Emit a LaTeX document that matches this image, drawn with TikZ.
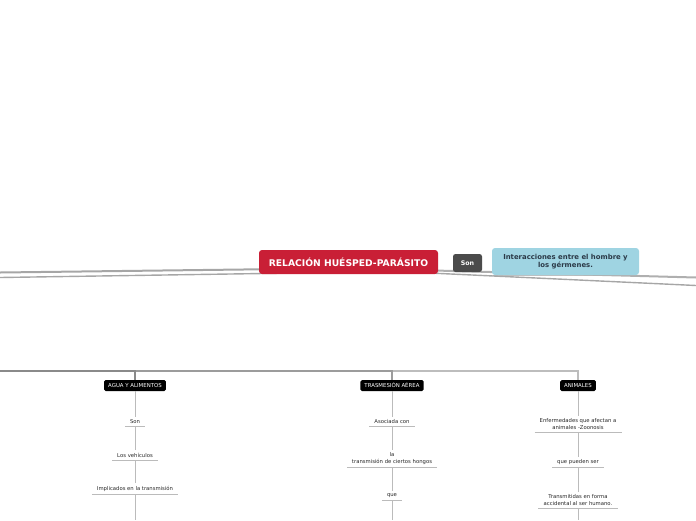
\documentclass[tikz,border=0pt]{standalone}
\usepackage{fontspec}
\setmainfont{DejaVu Sans}
\usetikzlibrary{backgrounds}
\definecolor{mainred}{HTML}{C91F36}
\definecolor{songray}{HTML}{4B4B4B}
\definecolor{lightblue}{HTML}{9FD4E2}
\definecolor{bluetext}{HTML}{2B3A48}
\definecolor{trunkA}{HTML}{8A8A8A}
\definecolor{trunkB}{HTML}{9C9C9C}
\definecolor{trunkC}{HTML}{BDBDBD}
\definecolor{linegray}{HTML}{A6A6A6}
\definecolor{branch}{HTML}{BBBBBB}
\begin{document}
\begin{tikzpicture}[x=1pt,y=-1pt,
  mainbox/.style={fill=mainred,rounded corners=3pt,text=white,font=\bfseries\fontsize{9.2}{11}\selectfont,minimum width=179pt,minimum height=24pt,inner sep=0pt},
  sonbox/.style={fill=songray,rounded corners=2.5pt,text=white,font=\bfseries\fontsize{6.3}{7}\selectfont,minimum width=29pt,minimum height=18pt,inner sep=0pt},
  bluebox/.style={fill=lightblue,rounded corners=3pt,text=bluetext,font=\bfseries\fontsize{6.9}{8.6}\selectfont,minimum width=147pt,minimum height=27pt,inner sep=0pt,align=center},
  catbox/.style={fill=black,rounded corners=1.5pt,text=white,font=\fontsize{5.4}{6.5}\selectfont,minimum height=11pt,inner xsep=4pt,inner ysep=0pt},
  lbl/.style={text=black!85,font=\fontsize{5.3}{6.6}\selectfont,align=center,inner xsep=5pt,inner ysep=2.4pt,anchor=south},
  uline/.style={draw=branch,line width=0.9pt},
  vline/.style={draw=branch,line width=1pt},
  trunk/.style={line width=1.3pt}
]
\useasboundingbox (0,0) rectangle (696,520);

% central part
\node[mainbox] (main) at (348.5,262) {RELACIÓN HUÉSPED-PARÁSITO};
\node[sonbox] (son) at (467.5,263) {Son};
\node[bluebox] (blue) at (565.5,261.5) {Interacciones entre el hombre y\\los gérmenes.};
\begin{scope}[on background layer]
  \fill[black!25] ([xshift=1pt,yshift=-1.2pt]blue.south west) rectangle ([xshift=-1pt]blue.south east);
\end{scope}

\coordinate (L1) at (0,272.5);
\coordinate (L2) at (0,277.5);
\coordinate (R1) at (696,277.5);
\coordinate (R2) at (696,285.5);
\begin{scope}[on background layer]
  \draw[linegray,line width=2pt] ([yshift=6pt]main.south) -- (L1);
  \draw[linegray,line width=1.4pt] ([yshift=2pt]main.south) -- (L2);
  \draw[linegray!90,line width=2pt] ([yshift=6pt]main.south) -- (R1);
  \draw[linegray,line width=1.4pt] ([yshift=5pt]main.south) -- (R2);
\end{scope}

% categories
\node[catbox] (agua) at (135,385.5) {AGUA Y ALIMENTOS};
\node[catbox] (aerea) at (392,385.5) {TRASMESIÓN AÉREA};
\node[catbox] (anim) at (578,385.5) {ANIMALES};

\coordinate (T) at (0,371);
\draw[trunk,trunkC] (T) -| (anim.north);
\draw[trunk,trunkB] (T) -| (aerea.north);
\draw[trunk,trunkA] (T) -| (agua.north);

% AGUA Y ALIMENTOS chain
\node[lbl] (a1) at (135,426) {Son};
\node[lbl] (a2) at (135,460) {Los vehículos};
\node[lbl] (a3) at (135,494) {Implicados en la transmisión};
\coordinate (aend) at (135,520);

% TRASMESION AEREA chain
\node[lbl] (b1) at (392,426) {Asociada con};
\node[lbl] (b2) at (392,467) {la\\transmisión de ciertos hongos};
\node[lbl] (b3) at (392,500) {que};
\coordinate (bend) at (392,520);

% ANIMALES chain
\node[lbl] (c1) at (578,432) {Enfermedades que afectan a\\animales -Zoonosis};
\node[lbl] (c2) at (578,467) {que pueden ser};
\node[lbl] (c3) at (578,508) {Transmitidas en forma\\accidental al ser humano.};
\coordinate (cend) at (578,520);

\foreach \n in {a1,a2,a3,b1,b2,b3,c1,c2,c3}
  \draw[uline] (\n.south west) -- (\n.south east);

\draw[vline] (agua.south) -- (a1.north);
\draw[vline] (a1.south) -- (a2.north);
\draw[vline] (a2.south) -- (a3.north);
\draw[vline] (a3.south) -- (aend);

\draw[vline] (aerea.south) -- (b1.north);
\draw[vline] (b1.south) -- (b2.north);
\draw[vline] (b2.south) -- (b3.north);
\draw[vline] (b3.south) -- (bend);

\draw[vline] (anim.south) -- (c1.north);
\draw[vline] (c1.south) -- (c2.north);
\draw[vline] (c2.south) -- (c3.north);
\draw[vline] (c3.south) -- (cend);
\end{tikzpicture}
\end{document}
